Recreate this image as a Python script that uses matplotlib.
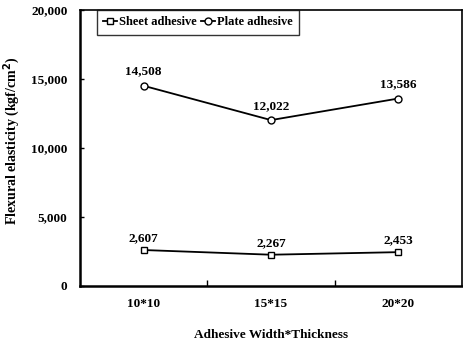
import matplotlib.pyplot as plt

plt.rcParams['font.family'] = ['Liberation Serif', 'DejaVu Serif']
plt.rcParams['font.weight'] = 'bold'

# data
categories = ['10*10', '15*15', '20*20']
sheet = [2607, 2267, 2453]
plate = [14508, 12022, 13586]

fig = plt.figure(figsize=(4.64, 3.43), dpi=100)
ax = fig.add_axes([80 / 464, 57 / 343, 382 / 464, 276 / 343])

x = range(len(categories))
ax.plot(x, sheet, color='black', lw=1.3, marker='s', ms=5, mfc='white',
        mec='black', mew=1.0, label='Sheet adhesive')
ax.plot(x, plate, color='black', lw=1.3, marker='o', ms=5, mfc='white',
        mec='black', mew=1.0, label='Plate adhesive')

for xi, v in zip(x, sheet):
    ax.annotate(f'{v:,}', (xi, v), xytext=(0, 4), textcoords='offset points',
                ha='center', va='bottom', fontsize=9.5, fontweight='bold')
for xi, v in zip(x, plate):
    ax.annotate(f'{v:,}', (xi, v), xytext=(0, 6), textcoords='offset points',
                ha='center', va='bottom', fontsize=9.5, fontweight='bold')

ax.set_xlim(-0.5, 2.5)
ax.set_ylim(0, 20000)
ax.set_yticks([0, 5000, 10000, 15000, 20000])
ax.set_yticklabels(['0', '5,000', '10,000', '15,000', '20,000'], fontsize=9.5)
ax.set_xticks([0.5, 1.5])
ax.set_xticklabels([])
ax.tick_params(axis='x', direction='in', length=4, width=1)
ax.tick_params(axis='y', direction='in', length=3, width=1, pad=9)
for i, c in enumerate(categories):
    ax.text(i, -18 / 276, c, transform=ax.get_xaxis_transform(),
            ha='center', va='center', fontsize=9.5, fontweight='bold')

for s in ['left', 'bottom']:
    ax.spines[s].set_linewidth(1.8)
for s in ['top', 'right']:
    ax.spines[s].set_linewidth(1.2)

ax.set_xlabel('Adhesive Width*Thickness', fontsize=9.5, fontweight='bold')
ax.xaxis.set_label_coords(0.5, -43 / 276)
ax.set_ylabel('Flexural elasticity (kgf/cm$^2$)', fontsize=10, fontweight='bold')
ax.yaxis.set_label_coords(-58 / 382, 0.525)

leg = ax.legend(loc='upper left', bbox_to_anchor=(0.044, 1.0), ncol=2, fontsize=9,
                frameon=True, fancybox=False, edgecolor='black', handlelength=1.1,
                handletextpad=0.2, columnspacing=0.3, borderpad=0.5, borderaxespad=0.0)
leg.get_frame().set_linewidth(1.0)

fig.savefig('out.png', dpi=100)
